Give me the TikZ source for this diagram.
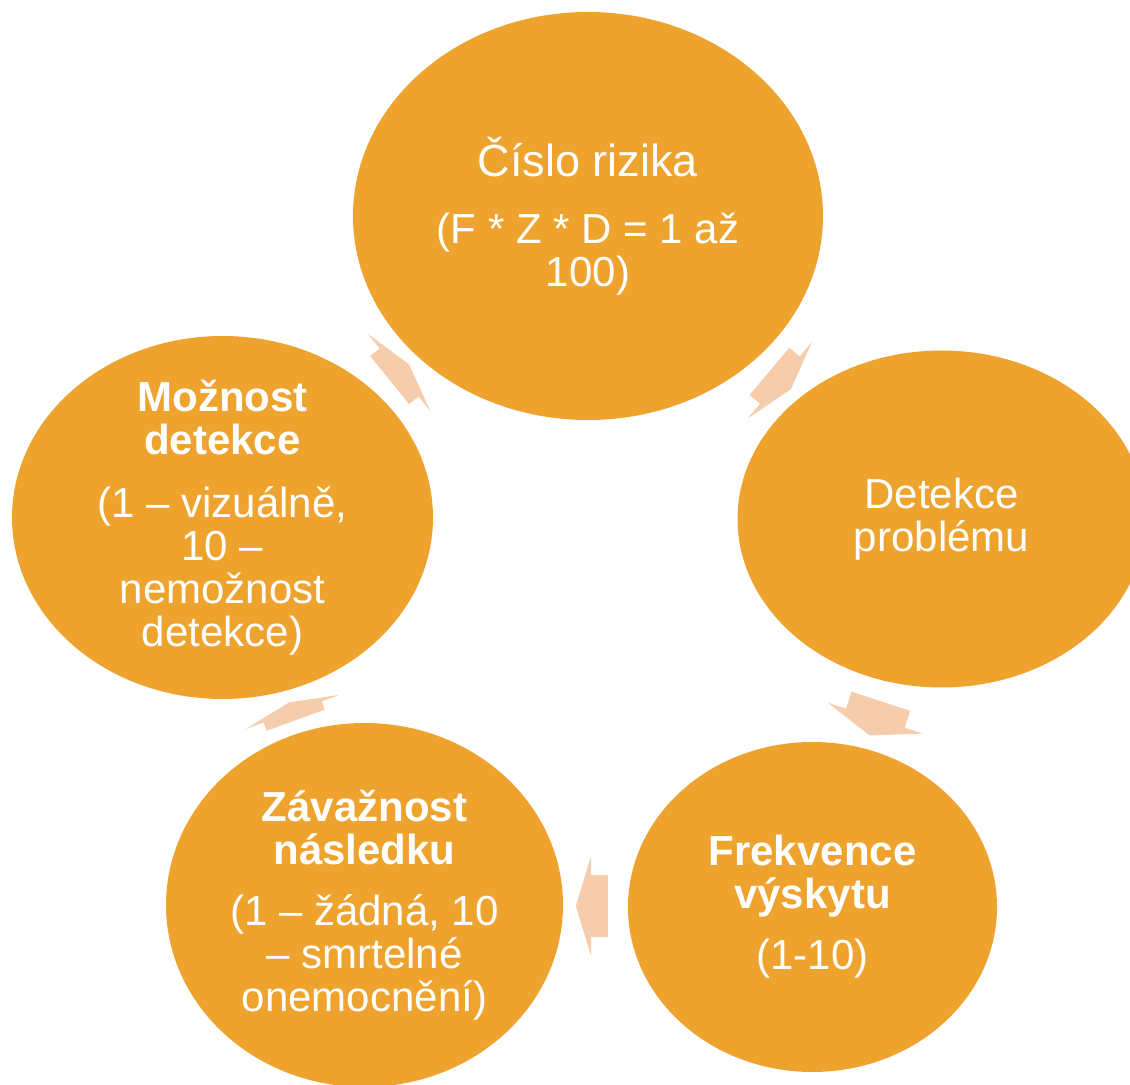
\documentclass[tikz,border=0pt]{standalone}
\usepackage{fontspec}
\setmainfont{Liberation Sans}
\usetikzlibrary{shapes.geometric,shapes.arrows,calc}

\definecolor{bubbleorange}{HTML}{EFA32F}
\definecolor{arrowpeach}{HTML}{F5CDAC}

\begin{document}
\begin{tikzpicture}[x=0.5pt, y=-0.5pt,
    bubble/.style={ellipse, fill=bubbleorange, inner sep=0pt},
    bubbletext/.style={text=white, align=center, font=\fontsize{21}{21.5}\selectfont},
    cyclearrow/.style 2 args={single arrow, fill=arrowpeach, inner xsep=0pt, inner ysep=15.25pt,
        single arrow head extend=9.5pt, minimum height=#1, single arrow tip angle=#2}]
    \useasboundingbox (0,0) rectangle (1130,1085);
    \clip (0,0) rectangle (1130,1085);

    % Draw the five ellipses
    \node[bubble, minimum width=235pt, minimum height=204pt] (cislo) at (588,216) {};
    \node[bubble, minimum width=204pt, minimum height=168.5pt] (detekce) at (941.5,519) {};
    \node[bubble, minimum width=184.5pt, minimum height=165pt] (frekvence) at (812.5,907) {};
    \node[bubble, minimum width=198.5pt, minimum height=182pt] (zavaznost) at (364.5,905) {};
    \node[bubble, minimum width=210.5pt, minimum height=181.5pt] (moznost) at (222.5,517.5) {};

    % Draw texts
    \node[bubbletext] (cislo-t) at (cislo) {{\fontsize{22.5}{21.5}\selectfont Číslo rizika}\\[12pt](F * Z * D = 1 až\\100)};
    \node[bubbletext] (detekce-t) at (detekce) {Detekce\\problému};
    \node[bubbletext] (frekvence-t) at (frekvence) {\textbf{Frekvence}\\\textbf{výskytu}\\[9pt](1-10)};
    \node[bubbletext] (zavaznost-t) at (zavaznost) {\textbf{Závažnost}\\\textbf{následku}\\[9pt](1 – žádná, 10\\– smrtelné\\onemocnění)};
    \node[bubbletext] (moznost-t) at (moznost) {\textbf{Možnost}\\\textbf{detekce}\\[10pt](1 – vizuálně,\\10 –\\nemožnost\\detekce)};

    % Draw arrows
    \node[cyclearrow={14pt}{148}, rotate=-40] (cislo-detekce) at ($(cislo)!0.5!(detekce)+(12,10)$) {};
    \node[cyclearrow={18pt}{140}, rotate=-108] (detekce-frekvence) at ($(detekce)!0.5!(frekvence)$) {};
    \node[cyclearrow={16pt}{146}, rotate=180] (frekvence-zavaznost) at ($(frekvence)!0.5!(zavaznost)+(8,0)$) {};
    \node[cyclearrow={9.5pt}{157}, rotate=110] (zavaznost-moznost) at ($(zavaznost)!0.5!(moznost)+(0,3)$) {};
    \node[cyclearrow={12.5pt}{151}, rotate=39] (moznost-cislo) at ($(moznost)!0.5!(cislo)+(-9,8)$) {};
\end{tikzpicture}
\end{document}
